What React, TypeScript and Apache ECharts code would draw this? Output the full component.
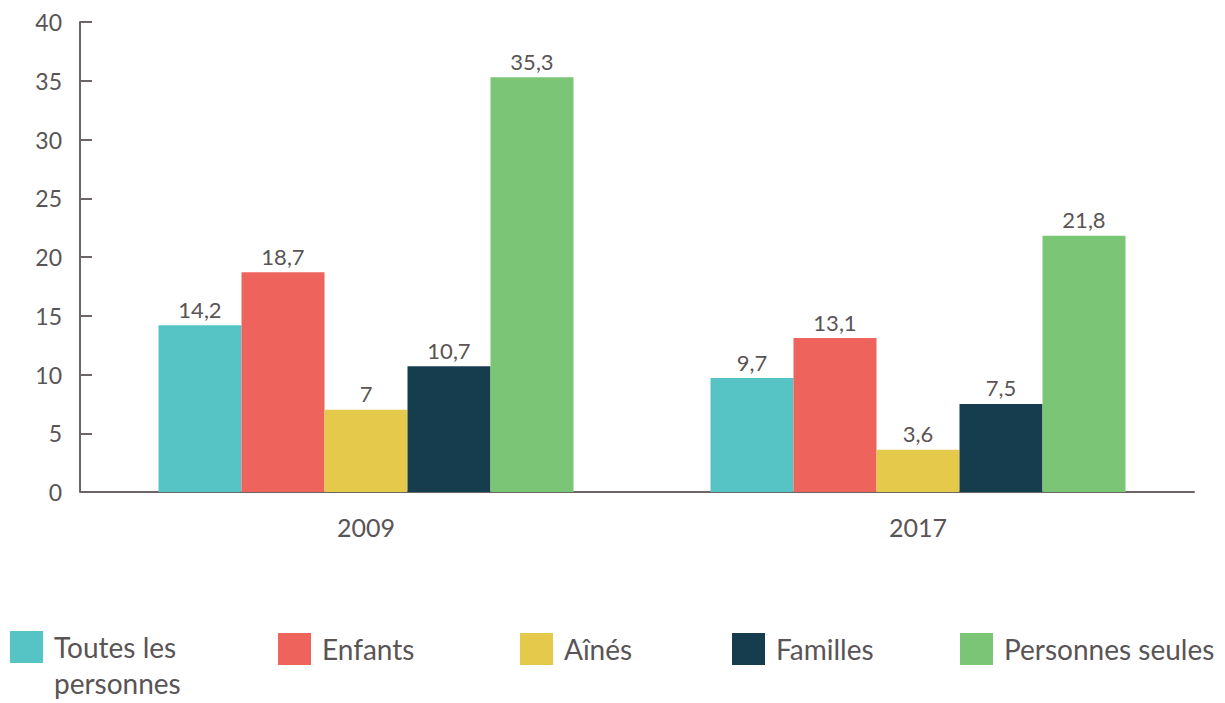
import React, { useEffect, useRef } from "react";
import * as echarts from "echarts";

const categories = ["2009", "2017"];
const seriesNames = ["Toutes les personnes", "Enfants", "Aînés", "Familles", "Personnes seules"];
const seriesColors = ["#56C4C5", "#EE645C", "#E5C94B", "#163D4D", "#7BC576"];
const toutes = [14.2, 9.7];
const enfants = [18.7, 13.1];
const aines = [7, 3.6];
const familles = [10.7, 7.5];
const seules = [35.3, 21.8];
const seriesValues = [toutes, enfants, aines, familles, seules];
const legendLefts = [10, 278, 520, 732, 960];

const FONT = "Lato, 'Open Sans', sans-serif";
const AXIS = "#6b6566";
const TEXT = "#595455";

export default function App() {
  const ref = useRef<HTMLDivElement>(null);
  useEffect(() => {
    if (!ref.current) return;
    const chart = echarts.init(ref.current, null, { renderer: "svg" });
    chart.setOption({
      animation: false,
      textStyle: { fontFamily: FONT },
      grid: { left: 90, right: 31, top: 22, bottom: 211 },
      legend: seriesNames.map((n, i) => ({
        data: [n],
        left: legendLefts[i],
        top: i === 0 ? 631 - 38 : 631,
        padding: 0,
        itemWidth: 33,
        itemHeight: 32,
        itemGap: 0,
        icon: "rect",
        selectedMode: false,
        formatter: i === 0 ? "{a| }\n{a|Toutes les}\n{a|personnes}" : "{a|{name}}",
        textStyle: {
          fontSize: 28,
          color: TEXT,
          fontFamily: FONT,
          lineHeight: 36,
          rich: {
            a: { fontSize: 28, color: TEXT, fontFamily: FONT, lineHeight: 36, padding: [0, 0, 0, 6] },
          },
        },
      })),
      xAxis: {
        type: "category",
        data: categories,
        axisLine: { lineStyle: { color: AXIS, width: 2 } },
        axisTick: { show: false },
        axisLabel: { fontSize: 25, color: TEXT, margin: 22, fontFamily: FONT },
      },
      yAxis: {
        type: "value",
        min: 0,
        max: 40,
        interval: 5,
        offset: 10,
        splitLine: { show: false },
        axisLine: { show: true, lineStyle: { color: AXIS, width: 2 } },
        axisTick: { show: true, inside: true, length: 12, lineStyle: { color: AXIS, width: 2 } },
        axisLabel: { fontSize: 23, color: TEXT, margin: 18, fontFamily: FONT },
      },
      graphic: [
        {
          type: "line",
          shape: { x1: 80, y1: 492, x2: 91, y2: 492 },
          style: { stroke: AXIS, lineWidth: 2 },
        },
      ],
      series: seriesNames.map((n, i) => ({
        name: n,
        type: "bar",
        data: seriesValues[i],
        barWidth: 83,
        barGap: "0%",
        itemStyle: { color: seriesColors[i] },
        label: {
          show: true,
          position: "top",
          distance: 5,
          fontSize: 22,
          color: TEXT,
          fontFamily: FONT,
          formatter: (p: any) => String(p.value).replace(".", ","),
        },
      })),
    });
    return () => chart.dispose();
  }, []);
  return (
    <div
      ref={ref}
      style={{ position: "fixed", left: 0, top: 0, width: 1225, height: 703, background: "#fff" }}
    />
  );
}
